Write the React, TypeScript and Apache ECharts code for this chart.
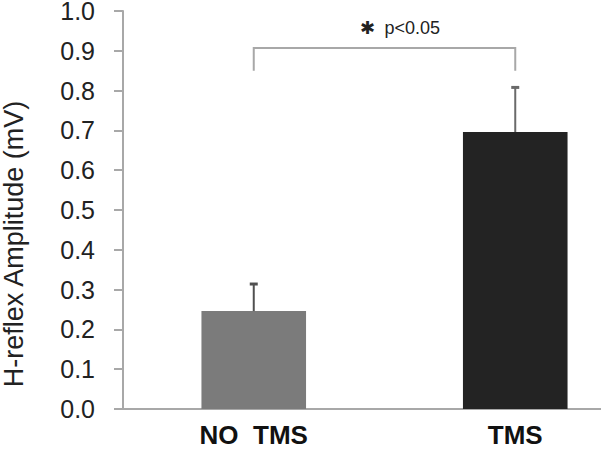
import React, { useEffect, useRef } from "react";
import * as echarts from "echarts";

const categories = ["NO  TMS", "TMS"];
const means = [0.246, 0.696];
const errorTops = [0.314, 0.808];
const barColors = ["#7b7b7b", "#232323"];
const errorColors = ["#505050", "#6a6a6a"];
// bracket: [fromCategory, toCategory, topLevel, footLevel, labelLevel]
const bracketSpan = [0, 1];
const bracketLevels = [0.907, 0.85, 0.958];
const annotationTexts = ["✱", "p<0.05"];
const yAxisTitle = "H-reflex Amplitude (mV)";

export default function App() {
  const ref = useRef<HTMLDivElement>(null);
  useEffect(() => {
    if (!ref.current) return;
    const chart = echarts.init(ref.current, null, { renderer: "svg" });
    const axisGray = "#a8a8a8";
    chart.setOption({
      animation: false,
      backgroundColor: "#ffffff",
      grid: { left: 123, top: 11, bottom: 41, right: -45, outerBoundsMode: "none", containLabel: false },
      graphic: [
        {
          type: "text",
          x: 14,
          y: 244,
          rotation: Math.PI / 2,
          style: {
            text: yAxisTitle,
            fontSize: 27,
            fontFamily: "Liberation Sans",
            fill: "#222",
            align: "center",
            verticalAlign: "middle",
            textAlign: "center",
            textVerticalAlign: "middle",
          },
        },
      ],
      xAxis: {
        type: "category",
        data: categories,
        axisLine: { lineStyle: { color: axisGray, width: 2 } },
        axisTick: { show: false },
        axisLabel: {
          margin: 15,
          fontSize: 26,
          lineHeight: 22,
          fontWeight: "bold",
          fontFamily: "Liberation Sans",
          color: "#111",
          interval: 0,
        },
      },
      yAxis: {
        type: "value",
        min: 0,
        max: 1,
        interval: 0.1,
        axisLine: { show: true, lineStyle: { color: axisGray, width: 2 } },
        axisTick: { show: true, length: 9, lineStyle: { color: axisGray, width: 2 } },
        splitLine: { show: false },
        axisLabel: {
          margin: 28,
          fontSize: 25,
          lineHeight: 20,
          fontFamily: "Liberation Sans",
          color: "#222",
          formatter: (v: number) => v.toFixed(1),
        },
      },
      series: [
        {
          type: "bar",
          barWidth: "40%",
          data: means.map((v, i) => ({ value: v, itemStyle: { color: barColors[i] } })),
          z: 2,
        },
        {
          type: "custom",
          z: 3,
          encode: { x: 0, y: [1, 2] },
          data: means.map((m, i) => [i, m, errorTops[i]]),
          renderItem: (params: any, api: any) => {
            const i = api.value(0);
            const base = api.coord([i, api.value(1)]);
            const top = api.coord([i, api.value(2)]);
            const c = errorColors[params.dataIndex];
            return {
              type: "group",
              children: [
                { type: "line", shape: { x1: top[0], y1: top[1], x2: base[0], y2: base[1] }, style: { stroke: c, lineWidth: 2 } },
                { type: "line", shape: { x1: top[0] - 4, y1: top[1], x2: top[0] + 4, y2: top[1] }, style: { stroke: c, lineWidth: 3 } },
              ],
            };
          },
        },
        {
          type: "custom",
          z: 3,
          encode: { x: [0, 1], y: [2, 3, 4] },
          data: [[bracketSpan[0], bracketSpan[1], bracketLevels[0], bracketLevels[1], bracketLevels[2]]],
          renderItem: (params: any, api: any) => {
            const a = api.value(0);
            const b = api.value(1);
            const pTopA = api.coord([a, api.value(2)]);
            const pTopB = api.coord([b, api.value(2)]);
            const pFootA = api.coord([a, api.value(3)]);
            const pFootB = api.coord([b, api.value(3)]);
            const yLab = api.coord([a, api.value(4)])[1];
            const mid = (pTopA[0] + pTopB[0]) / 2;
            return {
              type: "group",
              children: [
                {
                  type: "polyline",
                  shape: { points: [pFootA, pTopA, pTopB, pFootB] },
                  style: { stroke: "#a8a8a8", lineWidth: 2, fill: "none" },
                },
                {
                  type: "text",
                  x: mid - 17,
                  y: yLab,
                  style: {
                    text: annotationTexts[0],
                    fontSize: 18,
                    fontFamily: "DejaVu Sans",
                    fontWeight: "bold",
                    fill: "#222",
                    align: "center",
                    verticalAlign: "middle",
                    textAlign: "center",
                    textVerticalAlign: "middle",
                  },
                },
                {
                  type: "text",
                  x: mid,
                  y: yLab,
                  style: {
                    text: annotationTexts[1],
                    fontSize: 18,
                    fontFamily: "Liberation Sans",
                    fill: "#222",
                    align: "left",
                    verticalAlign: "middle",
                    textAlign: "left",
                    textVerticalAlign: "middle",
                  },
                },
              ],
            };
          },
        },
      ],
    });
    return () => chart.dispose();
  }, []);
  return <div ref={ref} style={{ position: "fixed", left: 0, top: 0, width: 601, height: 450 }} />;
}
